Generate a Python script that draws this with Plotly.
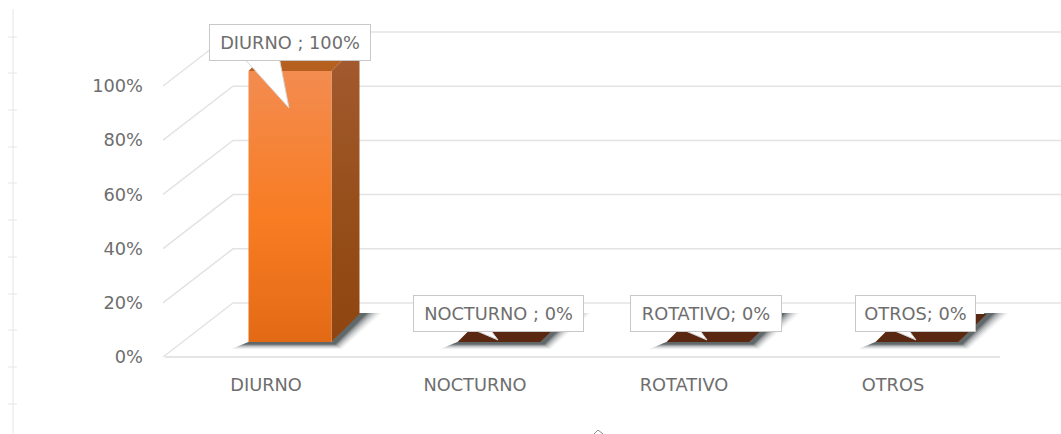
import plotly.graph_objects as go

# ---- data ----
categories = ["DIURNO", "NOCTURNO", "ROTATIVO", "OTROS"]
values = [100, 0, 0, 0]
point_labels = ["DIURNO ; 100%", "NOCTURNO ; 0%", "ROTATIVO; 0%", "OTROS; 0%"]
y_ticks = [0, 20, 40, 60, 80, 100]
y_tick_labels = ["0%", "20%", "40%", "60%", "80%", "100%"]

# ---- style / layout constants ----
W, H = 1061, 434
PLOT_L, PLOT_B = 150, 372
X0_PX, PX_PER_CAT = 269, 209
Y0_PX, PX_PER_PCT = 357, 2.71
FLOOR_L_PX, FLOOR_R_PX = 165, 1000
WALL_DX, WALL_DY = 70, 54
BAR_SHIFT, BAR_W, BAR_LIFT, BAR_DEPTH = 21, 83, 15, 28
FONT = dict(family="DejaVu Sans ExtraLight, DejaVu Sans", size=17.8, color="#6e6e6e")
label_widths = [160, 169, 150, 119]
label_shift = [0, -1, -2, -2]
tail_base = [(-52, -12), (-42, -14), (-42, -14), (-42, -14)]
tail_tip_rise = [-37, 2, 2, 2]


def cx(px):
    return (px - X0_PX) / PX_PER_CAT


def dv(px):
    return px / PX_PER_PCT


fig = go.Figure()


def poly(xs, ys, fill=None, line=None, gradient=None, width=1):
    kw = dict(fillgradient=gradient) if gradient else dict(fillcolor=fill)
    fig.add_trace(go.Scatter(
        x=xs, y=ys, mode="lines", fill="toself" if (fill or gradient) else "none",
        line=dict(color=line or "rgba(0,0,0,0)", width=width),
        hoverinfo="skip", showlegend=False, **kw))


# walls and floor
grid = "#e3e3e3"
for t in y_ticks:
    poly([cx(FLOOR_L_PX - 2), cx(FLOOR_L_PX - 2 + WALL_DX), cx(W)],
         [t, t + dv(WALL_DY), t + dv(WALL_DY)], line=grid, width=1.5)
poly([cx(FLOOR_L_PX), cx(FLOOR_R_PX)], [0, 0], line="#dcdcdc", width=1.5)

# bars
for i, v in enumerate(values):
    c = X0_PX + PX_PER_CAT * i + BAR_SHIFT
    xl, xr = c - BAR_W / 2, c + BAR_W / 2
    lift = dv(BAR_LIFT)
    d = dv(BAR_DEPTH)
    # soft shadow, layered from the faint outer edge to the dark core
    layers = [(12, 0.04), (10, 0.06), (8, 0.08), (6, 0.11), (4, 0.15), (2, 0.22), (0, 0.32)]
    for k, a in layers:
        sx = [xl - 6 - k, xr + 4 + k * 0.5, xr + 36 + k * 1.2, xr + 26, xr, xl]
        sv = [lift - dv(2.5 + k * 0.4), lift - dv(2.5 + k * 0.4), lift + d + dv(1),
              lift + d + dv(1), lift, lift]
        poly([cx(p) for p in sx], sv, fill=f"rgba(20,30,32,{a})")
    if v > 0:
        poly([cx(xr), cx(xr + BAR_DEPTH), cx(xr + BAR_DEPTH), cx(xr)],
             [lift, lift + d, lift + d + v, lift + v],
             gradient=dict(type="vertical", colorscale=[[0, "#8F450F"], [0.5, "#97501C"], [1, "#A35B30"]]))
        poly([cx(xl), cx(xl + BAR_DEPTH), cx(xr + BAR_DEPTH), cx(xr)],
             [lift + v, lift + v + d, lift + v + d, lift + v], fill="#B5601E")
        poly([cx(xl), cx(xr), cx(xr), cx(xl)],
             [lift, lift, lift + v, lift + v],
             gradient=dict(type="vertical", colorscale=[[0, "#E36A15"], [0.45, "#F87C22"], [1, "#F38C50"]]))
    else:
        poly([cx(xl), cx(xr), cx(xr + BAR_DEPTH), cx(xl + BAR_DEPTH)],
             [lift, lift, lift + d, lift + d], fill="#5A2810")

# callout tails
for i, v in enumerate(values):
    c = X0_PX + PX_PER_CAT * i + BAR_SHIFT
    box_v = v + 15.7
    tip_v = v + dv(BAR_LIFT) + dv(tail_tip_rise[i])
    b0, b1 = tail_base[i]
    poly([cx(c + b0), cx(c - 1), cx(c + b1), cx(c + b0)],
         [box_v - 3, tip_v, box_v - 3, box_v - 3], fill="#ffffff", line="#d4d4d4")

# stray ruler on the left edge and the clipped mark at the bottom (pixel overlay axis)
ruler_ticks = [37, 73, 110, 147, 183, 220, 257, 294, 330, 367, 404]
fig.add_trace(go.Scatter(x=[13, 13], y=[9, 434], mode="lines", xaxis="x2", yaxis="y2",
                         line=dict(color="#e6e6e6", width=1), hoverinfo="skip", showlegend=False))
for t in ruler_ticks:
    fig.add_trace(go.Scatter(x=[8, 17], y=[t, t], mode="lines", xaxis="x2", yaxis="y2",
                             line=dict(color="#e6e6e6", width=1), hoverinfo="skip", showlegend=False))
fig.add_trace(go.Scatter(x=[594, 598, 603], y=[434, 430, 434], mode="lines", xaxis="x2", yaxis="y2",
                         line=dict(color="#8a8a8a", width=1), hoverinfo="skip", showlegend=False))

annotations = []
for i, (lab, v) in enumerate(zip(point_labels, values)):
    annotations.append(dict(
        x=i + BAR_SHIFT / PX_PER_CAT, y=v + 15.9, xref="x", yref="y", text=lab, showarrow=False,
        xshift=label_shift[i], width=label_widths[i], height=35, align="center", valign="middle",
        bgcolor="#ffffff", bordercolor="#c8c8c8", borderwidth=1, borderpad=0, font=FONT))

fig.update_layout(
    width=W, height=H, autosize=False, margin=dict(l=0, r=0, t=0, b=0),
    paper_bgcolor="#ffffff", plot_bgcolor="rgba(0,0,0,0)", showlegend=False,
    annotations=annotations,
    xaxis=dict(domain=[PLOT_L / W, 1], range=[cx(PLOT_L), cx(W)], tickmode="array",
               tickvals=list(range(len(categories))), ticktext=categories, showgrid=False,
               zeroline=False, showline=False, ticks="", tickfont=FONT, anchor="y",
               ticklabelshift=-3),
    yaxis=dict(domain=[(H - PLOT_B) / H, 1], range=[(Y0_PX - PLOT_B) / PX_PER_PCT, Y0_PX / PX_PER_PCT],
               tickmode="array", tickvals=y_ticks, ticktext=y_tick_labels, showgrid=False,
               zeroline=False, showline=False, ticks="", tickfont=FONT, anchor="x",
               ticklabelstandoff=6),
    xaxis2=dict(domain=[0, 1], range=[0, W], visible=False, anchor="y2"),
    yaxis2=dict(domain=[0, 1], range=[H, 0], visible=False, anchor="x2"),
)
fig.write_html("out.html", config={"displayModeBar": False},
               post_script="document.body.style.margin='0';")
